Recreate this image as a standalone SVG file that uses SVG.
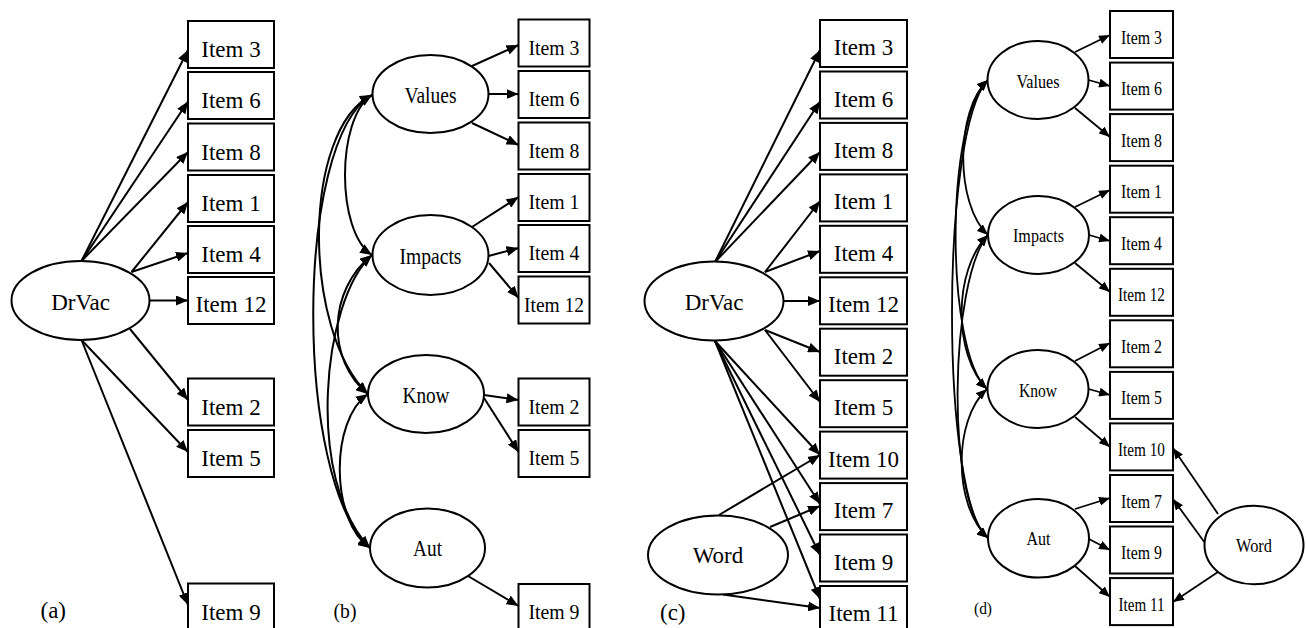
<svg xmlns="http://www.w3.org/2000/svg" width="1306" height="628" viewBox="0 0 1306 628">
<style>
.box{fill:#fff;stroke:#000;stroke-width:2}
.ell{fill:#fff;stroke:#000;stroke-width:2}
.t{font-family:"Liberation Serif","Times New Roman",serif;fill:#000;text-anchor:middle}
.s23{font-size:23px}
.s22{font-size:22px}
.s18{font-size:18px}
.s16{font-size:16px}
.lab{font-family:"Liberation Serif","Times New Roman",serif;fill:#000}
.a{stroke:#000;stroke-width:2;fill:none;marker-end:url(#ah)}
.ad{stroke:#000;stroke-width:1.8;fill:none;marker-end:url(#ahd)}
.cov{stroke:#000;stroke-width:2;fill:none;marker-start:url(#ahs);marker-end:url(#ah)}
.covd{stroke:#000;stroke-width:1.8;fill:none;marker-start:url(#ahds);marker-end:url(#ahd)}
</style>
<defs>
<marker id="ah" viewBox="0 0 12 10" refX="12" refY="5" markerWidth="12" markerHeight="10" markerUnits="userSpaceOnUse" orient="auto"><path d="M0,0 L12,5 L0,10 z" fill="#000"/></marker>
<marker id="ahs" viewBox="0 0 12 10" refX="12" refY="5" markerWidth="12" markerHeight="10" markerUnits="userSpaceOnUse" orient="auto-start-reverse"><path d="M0,0 L12,5 L0,10 z" fill="#000"/></marker>
<marker id="ahd" viewBox="0 0 11 9" refX="11" refY="4.5" markerWidth="11" markerHeight="9" markerUnits="userSpaceOnUse" orient="auto"><path d="M0,0 L11,4.5 L0,9 z" fill="#000"/></marker>
<marker id="ahds" viewBox="0 0 11 9" refX="11" refY="4.5" markerWidth="11" markerHeight="9" markerUnits="userSpaceOnUse" orient="auto-start-reverse"><path d="M0,0 L11,4.5 L0,9 z" fill="#000"/></marker>
</defs>
<rect width="1306" height="628" fill="#fff"/>

<g id="connectors">
<!-- (a) -->
<line class="a" x1="81.5" y1="261" x2="188" y2="50"/>
<line class="a" x1="81.5" y1="261" x2="188" y2="101.5"/>
<line class="a" x1="81.5" y1="261" x2="188" y2="152"/>
<line class="a" x1="131.5" y1="272" x2="188" y2="202"/>
<line class="a" x1="131.5" y1="272" x2="188" y2="253"/>
<line class="a" x1="149.5" y1="300.5" x2="188" y2="300.5"/>
<line class="a" x1="130" y1="329" x2="188" y2="400"/>
<line class="a" x1="81.5" y1="340" x2="188" y2="452"/>
<line class="a" x1="81.5" y1="340" x2="188" y2="605"/>
<!-- (b) -->
<line class="a" x1="472" y1="66" x2="518.5" y2="45"/>
<line class="a" x1="488.5" y1="94" x2="518.5" y2="94"/>
<line class="a" x1="472" y1="123" x2="518.5" y2="145"/>
<line class="a" x1="472" y1="227" x2="518.5" y2="197"/>
<line class="a" x1="488.5" y1="256" x2="518.5" y2="248"/>
<line class="a" x1="489" y1="263" x2="518.5" y2="298"/>
<line class="a" x1="484" y1="395" x2="518.5" y2="400"/>
<line class="a" x1="484" y1="398" x2="518.5" y2="452"/>
<line class="a" x1="468" y1="576" x2="518.5" y2="606"/>
<path class="cov" d="M372,95 C336,118 336,232 372,255"/>
<path class="cov" d="M372,95 C302,130 302,330 368,394"/>
<path class="cov" d="M372,95 C294,140 294,480 370,548"/>
<path class="cov" d="M372,255 C328,290 326,360 368,394"/>
<path class="cov" d="M372,255 C322,300 305,480 370,548"/>
<path class="cov" d="M368,394 C330,420 330,520 370,548"/>
<!-- (c) -->
<line class="a" x1="715" y1="262" x2="820" y2="50"/>
<line class="a" x1="715" y1="262" x2="820" y2="101.5"/>
<line class="a" x1="715" y1="262" x2="820" y2="152"/>
<line class="a" x1="765" y1="272" x2="820" y2="201"/>
<line class="a" x1="765" y1="272" x2="820" y2="251"/>
<line class="a" x1="783.5" y1="301" x2="820" y2="301"/>
<line class="a" x1="765" y1="330" x2="820" y2="352"/>
<line class="a" x1="765" y1="330" x2="820" y2="402"/>
<line class="a" x1="715" y1="341" x2="820" y2="455"/>
<line class="a" x1="715" y1="341" x2="820" y2="504"/>
<line class="a" x1="715" y1="341" x2="820" y2="555"/>
<line class="a" x1="715" y1="341" x2="820" y2="599"/>
<line class="a" x1="719" y1="515" x2="820" y2="455"/>
<line class="a" x1="770" y1="527" x2="820" y2="506"/>
<line class="a" x1="723" y1="594.5" x2="820" y2="608"/>
<!-- (d) -->
<line class="ad" x1="1075" y1="52" x2="1110" y2="35"/>
<line class="ad" x1="1088.5" y1="80" x2="1110" y2="86"/>
<line class="ad" x1="1075" y1="108" x2="1110" y2="137"/>
<line class="ad" x1="1075" y1="207" x2="1110" y2="190"/>
<line class="ad" x1="1089" y1="235" x2="1110" y2="241"/>
<line class="ad" x1="1075" y1="263" x2="1110" y2="292"/>
<line class="ad" x1="1075" y1="361" x2="1110" y2="343"/>
<line class="ad" x1="1088.5" y1="389" x2="1110" y2="395"/>
<line class="ad" x1="1075" y1="417" x2="1110" y2="447"/>
<line class="ad" x1="1075" y1="509" x2="1110" y2="498"/>
<line class="ad" x1="1089" y1="539" x2="1110" y2="550"/>
<line class="ad" x1="1075" y1="566" x2="1110" y2="597"/>
<line class="ad" x1="1218" y1="514" x2="1173" y2="448"/>
<line class="ad" x1="1205" y1="543" x2="1173" y2="499"/>
<line class="ad" x1="1218" y1="572" x2="1173" y2="602"/>
<path class="covd" d="M988,80 C955,110 955,205 988,235"/>
<path class="covd" d="M988,80 C945,120 945,350 987,389"/>
<path class="covd" d="M988,80 C940,130 940,500 988,538"/>
<path class="covd" d="M988,235 C953,270 953,355 987,389"/>
<path class="covd" d="M988,235 C950,280 945,500 988,538"/>
<path class="covd" d="M987,389 C953,420 953,505 988,538"/>
</g>

<!-- Panel (a) -->
<g id="a-DrVac"><ellipse class="ell" cx="80.5" cy="300.5" rx="69" ry="39.5"/><text class="t s23" x="80.5" y="310">DrVac</text></g>
<g id="a-item3"><rect class="box" x="188" y="21" width="86" height="47"/><text class="t s23" x="231" y="57">Item 3</text></g>
<g id="a-item6"><rect class="box" x="188" y="72" width="86" height="47"/><text class="t s23" x="231" y="108">Item 6</text></g>
<g id="a-item8"><rect class="box" x="188" y="123.5" width="86" height="47"/><text class="t s23" x="231" y="159.5">Item 8</text></g>
<g id="a-item1"><rect class="box" x="188" y="175" width="86" height="47"/><text class="t s23" x="231" y="211">Item 1</text></g>
<g id="a-item4"><rect class="box" x="188" y="226" width="86" height="47"/><text class="t s23" x="231" y="262">Item 4</text></g>
<g id="a-item12"><rect class="box" x="188" y="277" width="86" height="47"/><text class="t s23" x="231" y="312">Item 12</text></g>
<g id="a-item2"><rect class="box" x="188" y="378.5" width="86" height="47"/><text class="t s23" x="231" y="414.5">Item 2</text></g>
<g id="a-item5"><rect class="box" x="188" y="430" width="86" height="47"/><text class="t s23" x="231" y="466">Item 5</text></g>
<g id="a-item9"><rect class="box" x="188" y="583.5" width="86" height="47"/><text class="t s23" x="231" y="619.5">Item 9</text></g>
<text class="lab s23" x="40.5" y="618">(a)</text>

<!-- Panel (b) -->
<g id="b-Values"><ellipse class="ell" cx="430.5" cy="94" rx="58" ry="39"/><text class="t s23" x="430.5" y="103" textLength="52" lengthAdjust="spacingAndGlyphs">Values</text></g>
<g id="b-Impacts"><ellipse class="ell" cx="430.5" cy="255" rx="58" ry="40"/><text class="t s23" x="430.5" y="264" textLength="62" lengthAdjust="spacingAndGlyphs">Impacts</text></g>
<g id="b-Know"><ellipse class="ell" cx="426" cy="394" rx="58" ry="39"/><text class="t s23" x="426" y="402.5" textLength="47" lengthAdjust="spacingAndGlyphs">Know</text></g>
<g id="b-Aut"><ellipse class="ell" cx="427.5" cy="548" rx="57.5" ry="39.5"/><text class="t s23" x="427.5" y="556" textLength="29" lengthAdjust="spacingAndGlyphs">Aut</text></g>
<g id="b-item3"><rect class="box" x="518.5" y="19.5" width="71" height="47"/><text class="t s22" x="554" y="54.5" textLength="51" lengthAdjust="spacingAndGlyphs">Item 3</text></g>
<g id="b-item6"><rect class="box" x="518.5" y="71" width="71" height="47"/><text class="t s22" x="554" y="106" textLength="51" lengthAdjust="spacingAndGlyphs">Item 6</text></g>
<g id="b-item8"><rect class="box" x="518.5" y="122.5" width="71" height="47"/><text class="t s22" x="554" y="157.5" textLength="51" lengthAdjust="spacingAndGlyphs">Item 8</text></g>
<g id="b-item1"><rect class="box" x="518.5" y="174" width="71" height="47"/><text class="t s22" x="554" y="209" textLength="51" lengthAdjust="spacingAndGlyphs">Item 1</text></g>
<g id="b-item4"><rect class="box" x="518.5" y="225" width="71" height="47"/><text class="t s22" x="554" y="260" textLength="51" lengthAdjust="spacingAndGlyphs">Item 4</text></g>
<g id="b-item12"><rect class="box" x="518.5" y="276.5" width="71" height="47"/><text class="t s22" x="554" y="311.5" textLength="60" lengthAdjust="spacingAndGlyphs">Item 12</text></g>
<g id="b-item2"><rect class="box" x="518.5" y="378.5" width="71" height="47"/><text class="t s22" x="554" y="413.5" textLength="51" lengthAdjust="spacingAndGlyphs">Item 2</text></g>
<g id="b-item5"><rect class="box" x="518.5" y="430" width="71" height="47"/><text class="t s22" x="554" y="465" textLength="51" lengthAdjust="spacingAndGlyphs">Item 5</text></g>
<g id="b-item9"><rect class="box" x="518.5" y="584" width="71" height="47"/><text class="t s22" x="554" y="619" textLength="51" lengthAdjust="spacingAndGlyphs">Item 9</text></g>
<text class="lab s22" x="333.5" y="618" textLength="23" lengthAdjust="spacingAndGlyphs">(b)</text>

<!-- Panel (c) -->
<g id="c-DrVac"><ellipse class="ell" cx="714" cy="301" rx="69.5" ry="39.5"/><text class="t s23" x="714" y="310">DrVac</text></g>
<g id="c-Word"><ellipse class="ell" cx="718" cy="555" rx="70" ry="39.5"/><text class="t s23" x="718" y="563">Word</text></g>
<g id="c-item3"><rect class="box" x="820" y="20" width="87" height="47"/><text class="t s23" x="863.5" y="55">Item 3</text></g>
<g id="c-item6"><rect class="box" x="820" y="71.5" width="87" height="47"/><text class="t s23" x="863.5" y="106.5">Item 6</text></g>
<g id="c-item8"><rect class="box" x="820" y="122.9" width="87" height="47"/><text class="t s23" x="863.5" y="157.9">Item 8</text></g>
<g id="c-item1"><rect class="box" x="820" y="174.4" width="87" height="47"/><text class="t s23" x="863.5" y="209.4">Item 1</text></g>
<g id="c-item4"><rect class="box" x="820" y="225.8" width="87" height="47"/><text class="t s23" x="863.5" y="260.8">Item 4</text></g>
<g id="c-item12"><rect class="box" x="820" y="277.3" width="87" height="47"/><text class="t s23" x="863.5" y="312.3">Item 12</text></g>
<g id="c-item2"><rect class="box" x="820" y="328.7" width="87" height="47"/><text class="t s23" x="863.5" y="363.7">Item 2</text></g>
<g id="c-item5"><rect class="box" x="820" y="380.2" width="87" height="47"/><text class="t s23" x="863.5" y="415.2">Item 5</text></g>
<g id="c-item10"><rect class="box" x="820" y="431.6" width="87" height="47"/><text class="t s23" x="863.5" y="466.6">Item 10</text></g>
<g id="c-item7"><rect class="box" x="820" y="483.1" width="87" height="47"/><text class="t s23" x="863.5" y="518.1">Item 7</text></g>
<g id="c-item9"><rect class="box" x="820" y="534.5" width="87" height="47"/><text class="t s23" x="863.5" y="569.5">Item 9</text></g>
<g id="c-item11"><rect class="box" x="820" y="586" width="87" height="47"/><text class="t s23" x="863.5" y="621">Item 11</text></g>
<text class="lab s23" x="660" y="620">(c)</text>

<!-- Panel (d) -->
<g id="d-Values"><ellipse class="ell" cx="1038" cy="80" rx="50.5" ry="39"/><text class="t s18" x="1038" y="87.5" textLength="43" lengthAdjust="spacingAndGlyphs">Values</text></g>
<g id="d-Impacts"><ellipse class="ell" cx="1038.5" cy="235" rx="50.5" ry="39"/><text class="t s18" x="1038.5" y="242" textLength="51" lengthAdjust="spacingAndGlyphs">Impacts</text></g>
<g id="d-Know"><ellipse class="ell" cx="1038" cy="389" rx="50.5" ry="39"/><text class="t s18" x="1038" y="397" textLength="38" lengthAdjust="spacingAndGlyphs">Know</text></g>
<g id="d-Aut"><ellipse class="ell" cx="1038.5" cy="538.3" rx="50.5" ry="39.3"/><text class="t s18" x="1038.5" y="545" textLength="24" lengthAdjust="spacingAndGlyphs">Aut</text></g>
<g id="d-Word"><ellipse class="ell" cx="1254" cy="545" rx="49.5" ry="39.3"/><text class="t s18" x="1254" y="551.5" textLength="36" lengthAdjust="spacingAndGlyphs">Word</text></g>
<g id="d-item3"><rect class="box" x="1110" y="11" width="63" height="47"/><text class="t s18" x="1141.5" y="43.5" textLength="41" lengthAdjust="spacingAndGlyphs">Item 3</text></g>
<g id="d-item6"><rect class="box" x="1110" y="62.6" width="63" height="47"/><text class="t s18" x="1141.5" y="95.1" textLength="41" lengthAdjust="spacingAndGlyphs">Item 6</text></g>
<g id="d-item8"><rect class="box" x="1110" y="114.1" width="63" height="47"/><text class="t s18" x="1141.5" y="146.6" textLength="41" lengthAdjust="spacingAndGlyphs">Item 8</text></g>
<g id="d-item1"><rect class="box" x="1110" y="165.7" width="63" height="47"/><text class="t s18" x="1141.5" y="198.2" textLength="41" lengthAdjust="spacingAndGlyphs">Item 1</text></g>
<g id="d-item4"><rect class="box" x="1110" y="217.2" width="63" height="47"/><text class="t s18" x="1141.5" y="249.7" textLength="41" lengthAdjust="spacingAndGlyphs">Item 4</text></g>
<g id="d-item12"><rect class="box" x="1110" y="268.8" width="63" height="47"/><text class="t s18" x="1141.5" y="301.3" textLength="47" lengthAdjust="spacingAndGlyphs">Item 12</text></g>
<g id="d-item2"><rect class="box" x="1110" y="320.3" width="63" height="47"/><text class="t s18" x="1141.5" y="352.8" textLength="41" lengthAdjust="spacingAndGlyphs">Item 2</text></g>
<g id="d-item5"><rect class="box" x="1110" y="371.9" width="63" height="47"/><text class="t s18" x="1141.5" y="404.4" textLength="41" lengthAdjust="spacingAndGlyphs">Item 5</text></g>
<g id="d-item10"><rect class="box" x="1110" y="423.4" width="63" height="47"/><text class="t s18" x="1141.5" y="455.9" textLength="47" lengthAdjust="spacingAndGlyphs">Item 10</text></g>
<g id="d-item7"><rect class="box" x="1110" y="475" width="63" height="47"/><text class="t s18" x="1141.5" y="507.5" textLength="41" lengthAdjust="spacingAndGlyphs">Item 7</text></g>
<g id="d-item9"><rect class="box" x="1110" y="526.5" width="63" height="47"/><text class="t s18" x="1141.5" y="559" textLength="41" lengthAdjust="spacingAndGlyphs">Item 9</text></g>
<g id="d-item11"><rect class="box" x="1110" y="578.1" width="63" height="47"/><text class="t s18" x="1141.5" y="610.6" textLength="46" lengthAdjust="spacingAndGlyphs">Item 11</text></g>
<text class="lab s16" x="974" y="613.5" textLength="18" lengthAdjust="spacingAndGlyphs">(d)</text>
</svg>
